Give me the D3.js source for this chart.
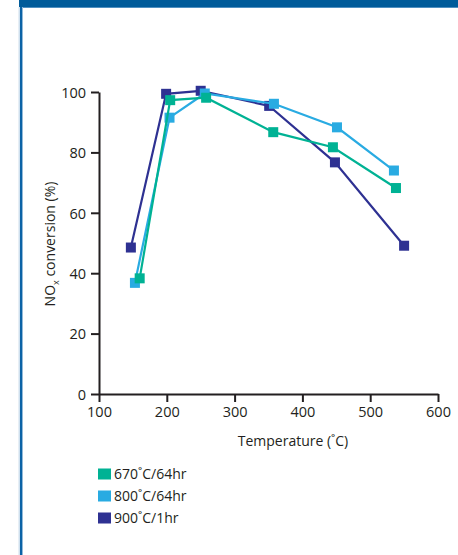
<!DOCTYPE html>
<html>
<head>
<meta charset="utf-8">
<script src="https://cdn.jsdelivr.net/npm/d3@7"></script>
<style>
  html, body { margin: 0; padding: 0; background: #fff; }
  svg { display: block; }
  text { font-family: "Open Sans", sans-serif; fill: #231f20; }
</style>
</head>
<body>
<svg id="chart" width="458" height="555"></svg>
<script>
// Temperatures (°C) and NOx conversion (%) for each aged catalyst
const temps670 = [160, 205, 258, 357, 445, 538];
const conv670  = [38.3, 97.3, 98.1, 86.7, 81.7, 68.2];

const temps800 = [153, 204, 256, 358, 451, 535];
const conv800  = [36.8, 91.5, 99.5, 96.1, 88.3, 74.0];

const temps900 = [147, 199, 250, 351, 448, 550];
const conv900  = [48.5, 99.4, 100.4, 95.4, 76.7, 49.1];

const seriesNames  = ["670˚C/64hr", "800˚C/64hr", "900˚C/1hr"];
const seriesColors = ["#00b294", "#29abe2", "#2e3192"];

const xTicks = [100, 200, 300, 400, 500, 600];
const yTicks = [0, 20, 40, 60, 80, 100];

const svg = d3.select("#chart");

// Page frame: top bar and left rule
svg.append("rect").attr("x", 19).attr("y", 0).attr("width", 439).attr("height", 7).attr("fill", "#005b9a");
svg.append("rect").attr("x", 19).attr("y", 7).attr("width", 439).attr("height", 1).attr("fill", "#4f8fc0");
svg.append("rect").attr("x", 18.5).attr("y", 7).attr("width", 4.5).attr("height", 548).attr("fill", "#cfe0ee");
svg.append("rect").attr("x", 20).attr("y", 7).attr("width", 2.3).attr("height", 548).attr("fill", "#0b63a6");

const x = d3.scaleLinear().domain([100, 600]).range([99, 438]);
const y = d3.scaleLinear().domain([0, 100]).range([394, 92]);

// Axes
const xAxis = svg.append("g")
  .attr("transform", `translate(0,${y(0)})`)
  .call(d3.axisBottom(x).tickValues(xTicks).tickSize(8).tickSizeOuter(0).tickPadding(5));
const yAxis = svg.append("g")
  .attr("transform", `translate(${x(100)},0)`)
  .call(d3.axisLeft(y).tickValues(yTicks).tickSize(8).tickSizeOuter(0).tickPadding(5));

[xAxis, yAxis].forEach(g => {
  g.select(".domain").attr("stroke", "#231f20").attr("stroke-width", 2);
  g.selectAll(".tick line").attr("stroke", "#231f20").attr("stroke-width", 2);
  g.selectAll(".tick text").attr("font-size", 14.5).attr("font-family", "Open Sans, sans-serif").attr("fill", "#231f20");
});
yAxis.selectAll(".tick text").attr("dy", "0.36em");

// Axis titles
svg.append("text")
  .attr("x", 293).attr("y", 446)
  .attr("text-anchor", "middle")
  .attr("font-size", 14)
  .text("Temperature (˚C)");

const yTitle = svg.append("text")
  .attr("transform", "translate(55,244) rotate(-90)")
  .attr("text-anchor", "middle")
  .attr("font-size", 14);
yTitle.append("tspan").text("NO");
yTitle.append("tspan").attr("font-size", 9).attr("dy", 4).text("x");
yTitle.append("tspan").attr("dy", -4).text(" conversion (%)");

// Series (drawn so the 670˚C series sits on top)
const series = [
  { name: seriesNames[2], color: seriesColors[2], t: temps900, v: conv900 },
  { name: seriesNames[1], color: seriesColors[1], t: temps800, v: conv800 },
  { name: seriesNames[0], color: seriesColors[0], t: temps670, v: conv670 }
];

const line = d3.line().x(d => x(d[0])).y(d => y(d[1]));
const m = 10;

series.forEach(s => {
  const pts = s.t.map((t, i) => [t, s.v[i]]);
  const g = svg.append("g");
  g.append("path")
    .attr("d", line(pts))
    .attr("fill", "none")
    .attr("stroke", s.color)
    .attr("stroke-width", 2.2);
  g.selectAll("rect")
    .data(pts)
    .join("rect")
    .attr("x", d => x(d[0]) - m / 2)
    .attr("y", d => y(d[1]) - m / 2)
    .attr("width", m)
    .attr("height", m)
    .attr("fill", s.color);
});

// Legend
const legend = svg.append("g");
seriesNames.forEach((name, i) => {
  const cy = 474 + i * 22;
  legend.append("rect")
    .attr("x", 98).attr("y", cy - 5.5)
    .attr("width", 13).attr("height", 11)
    .attr("fill", seriesColors[i]);
  legend.append("text")
    .attr("x", 114).attr("y", cy + 5)
    .attr("font-size", 14)
    .text(name);
});
</script>
</body>
</html>
